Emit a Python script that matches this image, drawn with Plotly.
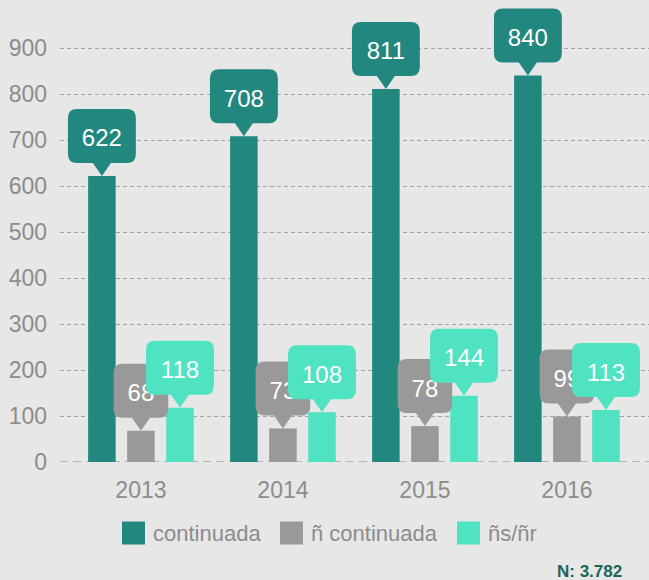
import plotly.graph_objects as go

# ---- data ----
years = ["2013", "2014", "2015", "2016"]
series_names = ["continuada", "ñ continuada", "ñs/ñr"]
continuada = [622, 708, 811, 840]
n_continuada = [68, 73, 78, 99]
ns_nr = [118, 108, 144, 113]
total_label = "N: 3.782"

# ---- styles ----
colors = ["#21877f", "#999999", "#50e3c2"]
bg = "#e7e7e7"
tick_color = "#8c8c8c"
font_family = "Liberation Sans, Arial, sans-serif"

series = [continuada, n_continuada, ns_nr]
bar_w = 0.194
shift = 0.275
x_idx = list(range(len(years)))

plot_left, plot_w = 60, 589
plot_bottom, plot_h = 462, 460
x_range = [-0.57, 3.578]
y_range = [0, 1000]
xppu = plot_w / (x_range[1] - x_range[0])
yppu = plot_h / (y_range[1] - y_range[0])

fig = go.Figure()
for i, (name, vals) in enumerate(zip(series_names, series)):
    s = (i - 1) * shift
    fig.add_trace(go.Bar(
        x=x_idx, y=vals, name=name,
        width=bar_w, offset=s - bar_w / 2,
        marker=dict(color=colors[i], line=dict(width=0)),
        showlegend=False, hoverinfo="skip",
    ))

shapes = []
shapes.append(dict(type="line", xref="paper", yref="y", x0=0, x1=1, y0=0, y1=0,
                   line=dict(color="#a6a6a6", width=1.5, dash="8px,5px"), layer="below"))

tri_h, tri_half, box_h, r = 13, 9, 54, 9
for j in x_idx:
    for i, vals in enumerate(series):
        v = vals[j]
        txt = str(v)
        hw = (13.3 * len(txt) + 28) / 2
        yb, yt = tri_h, tri_h + box_h
        path = (f"M0,0 L{tri_half},{yb} L{hw - r},{yb} Q{hw},{yb} {hw},{yb + r} "
                f"L{hw},{yt - r} Q{hw},{yt} {hw - r},{yt} L{-hw + r},{yt} "
                f"Q{-hw},{yt} {-hw},{yt - r} L{-hw},{yb + r} Q{-hw},{yb} {-hw + r},{yb} "
                f"L{-tri_half},{yb} Z")
        xa = j + (i - 1) * shift
        shapes.append(dict(type="path", xref="x", yref="y", xsizemode="pixel", ysizemode="pixel",
                           xanchor=xa, yanchor=v, path=path, fillcolor=colors[i],
                           line=dict(width=0), layer="above"))
        shapes.append(dict(type="rect", xref="x", yref="y",
                           x0=xa - hw / xppu, x1=xa + hw / xppu,
                           y0=v + yb / yppu, y1=v + yt / yppu,
                           fillcolor="rgba(0,0,0,0)", line=dict(width=0), layer="above",
                           label=dict(text=txt, textposition="middle center",
                                      font=dict(color="white", size=24, family=font_family))))

def px2x(px):
    return (px - plot_left) / plot_w
def py2y(py):
    return (plot_bottom - py) / plot_h

legend_px = [122, 280, 457]
sq = 23
leg_cy = 533
annotations = []
for i, name in enumerate(series_names):
    x0 = legend_px[i]
    shapes.append(dict(type="rect", xref="paper", yref="paper",
                       x0=px2x(x0), x1=px2x(x0 + sq), y0=py2y(leg_cy + sq / 2), y1=py2y(leg_cy - sq / 2),
                       fillcolor=colors[i], line=dict(width=0)))
    annotations.append(dict(xref="paper", yref="paper", x=px2x(x0 + sq + 6), y=py2y(leg_cy),
                            text=name, showarrow=False, xanchor="left", yanchor="middle",
                            font=dict(size=22, color=tick_color, family=font_family)))

annotations.append(dict(xref="paper", yref="paper", x=px2x(624), y=py2y(571),
                        text=f"<b>{total_label}</b>", showarrow=False, xanchor="right", yanchor="middle",
                        font=dict(size=17, color="#1d6656", family=font_family)))

fig.update_layout(
    width=649, height=580,
    margin=dict(l=plot_left, r=0, t=2, b=580 - plot_bottom),
    paper_bgcolor=bg, plot_bgcolor=bg,
    barmode="overlay",
    shapes=shapes, annotations=annotations,
    font=dict(family=font_family, color=tick_color),
    xaxis=dict(range=x_range, tickvals=x_idx, ticktext=years, showgrid=False,
               zeroline=False, showline=False, ticks="", ticklabelstandoff=12,
               tickfont=dict(size=23, color=tick_color), fixedrange=True),
    yaxis=dict(range=y_range, tickvals=[0, 100, 200, 300, 400, 500, 600, 700, 800, 900],
               showgrid=True, gridcolor="#a3a3a3", gridwidth=1, griddash="4px,3px",
               zeroline=False, showline=False, ticks="", ticklabelstandoff=12,
               tickfont=dict(size=23, color=tick_color), fixedrange=True),
)

fig.write_html("out.html", config={"displayModeBar": False},
               post_script="document.body.style.margin='0';document.body.style.background='%s';" % bg)
